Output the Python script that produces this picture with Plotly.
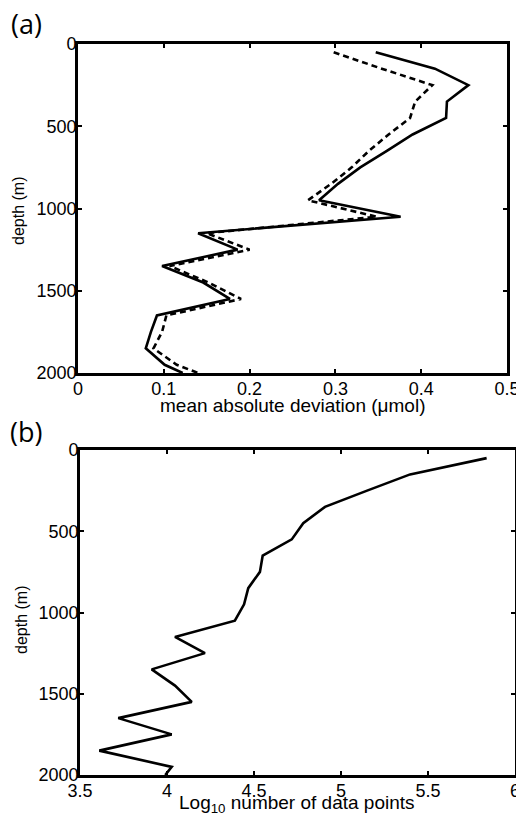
import plotly.graph_objects as go

# ---- data ----
depth = [50, 150, 250, 350, 450, 550, 650, 750, 850, 950, 1050,
         1150, 1250, 1350, 1450, 1550, 1650, 1750, 1850, 1950, 2000]
mad_solid = [0.347, 0.416, 0.455, 0.430, 0.429, 0.390, 0.360, 0.329, 0.303, 0.281, 0.376,
             0.140, 0.186, 0.098, 0.146, 0.177, 0.092, 0.085, 0.079, 0.101, 0.122]
mad_dashed = [0.298, 0.354, 0.413, 0.393, 0.387, 0.362, 0.339, 0.319, 0.295, 0.268, 0.348,
              0.150, 0.200, 0.107, 0.152, 0.190, 0.103, 0.098, 0.088, 0.115, 0.140]
log_npts = [5.837, 5.397, 5.150, 4.908, 4.783, 4.717, 4.550, 4.534, 4.467, 4.443, 4.390,
            4.046, 4.218, 3.912, 4.046, 4.142, 3.720, 4.027, 3.611, 4.027, 3.990]

xticks_a = [0, 0.1, 0.2, 0.3, 0.4, 0.5]
xticklabels_a = ["0", "0.1", "0.2", "0.3", "0.4", "0.5"]
xticks_b = [3.5, 4, 4.5, 5, 5.5, 6]
xticklabels_b = ["3.5", "4", "4.5", "5", "5.5", "6"]
yticks = [0, 500, 1000, 1500, 2000]

W, H = 524, 821
OFF = 8  # page body margin
def px(x):
    return (x - OFF) / W
def py(y):
    return 1 - (y - OFF) / H

fig = go.Figure()
line_w = 2.6
fig.add_trace(go.Scatter(x=mad_solid, y=depth, mode="lines",
                         line=dict(color="black", width=line_w), xaxis="x", yaxis="y",
                         showlegend=False))
fig.add_trace(go.Scatter(x=mad_dashed, y=depth, mode="lines",
                         line=dict(color="black", width=line_w, dash="6px,4px"),
                         xaxis="x", yaxis="y", showlegend=False))
fig.add_trace(go.Scatter(x=log_npts, y=depth, mode="lines",
                         line=dict(color="black", width=line_w), xaxis="x2", yaxis="y2",
                         showlegend=False))

tickfont = dict(family="Liberation Sans, Arial", size=18, color="black")
common = dict(showline=True, linecolor="black", linewidth=2.8, mirror="allticks",
              ticks="inside", ticklen=4, tickwidth=2, tickcolor="black",
              showgrid=False, zeroline=False, tickfont=tickfont, automargin=False)
xcommon = dict(common, ticklabelstandoff=-3)
ycommon = dict(common, ticklabelstandoff=-5)

fig.update_layout(
    template="none",
    width=W, height=H,
    margin=dict(l=0, r=0, t=0, b=0, pad=0),
    paper_bgcolor="white", plot_bgcolor="white",
    xaxis=dict(domain=[px(78), px(507)], range=[0, 0.5], tickvals=xticks_a,
               ticktext=xticklabels_a, anchor="y", **xcommon),
    yaxis=dict(domain=[py(373), py(44)], range=[2000, 0], tickvals=yticks,
               anchor="x", **ycommon),
    xaxis2=dict(domain=[px(80), px(515)], range=[3.5, 6], tickvals=xticks_b,
                ticktext=xticklabels_b, anchor="y2", **xcommon),
    yaxis2=dict(domain=[py(775), py(450)], range=[2000, 0], tickvals=yticks,
                anchor="x2", **ycommon),
)

titlefont = dict(family="Liberation Sans, Arial", size=19, color="black")
vtitlefont = dict(family="Liberation Sans, Arial", size=16, color="black")
labelfont = dict(family="Open Sans", size=27, color="black")
ann = [
    dict(text="(a)", x=px(26), y=py(23), font=labelfont),
    dict(text="(b)", x=px(26), y=py(432), font=labelfont),
    dict(text="depth (m)", x=px(19), y=py(211), textangle=-90, font=vtitlefont),
    dict(text="depth (m)", x=px(21), y=py(620), textangle=-90, font=vtitlefont),
    dict(text="mean absolute deviation (\u03bcmol)", x=px(292), y=py(405), font=titlefont),
    dict(text="Log<sub>10</sub> number of data points", x=px(297), y=py(804), font=titlefont),
]
for a in ann:
    a.update(xref="paper", yref="paper", showarrow=False, xanchor="center", yanchor="middle")
fig.update_layout(annotations=ann)

fig.write_html("out.html")
